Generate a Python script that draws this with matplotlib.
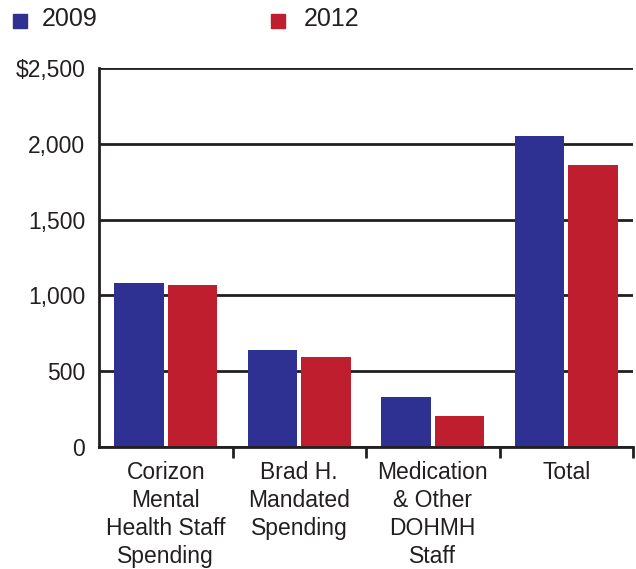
import matplotlib
matplotlib.use("Agg")
import matplotlib.pyplot as plt
from matplotlib.patches import Rectangle
import numpy as np

categories = ["Corizon\nMental\nHealth Staff\nSpending", "Brad H.\nMandated\nSpending",
              "Medication\n& Other\nDOHMH\nStaff", "Total"]
series_names = ["2009", "2012"]
values_2009 = [1080, 642, 332, 2050]
values_2012 = [1070, 596, 207, 1862]
yticks = [0, 500, 1000, 1500, 2000, 2500]
ytick_labels = ["0", "500", "1,000", "1,500", "2,000", "$2,500"]
colors = ["#2E3192", "#BE1E2D"]
text_color = "#231F20"

plt.rcParams['font.family'] = ['Liberation Sans', 'DejaVu Sans']

W, H = 636, 569
fig = plt.figure(figsize=(W / 100, H / 100), dpi=100)
ax = fig.add_axes([99 / W, 1 - 447 / H, (633 - 99) / W, (447 - 68) / H])

x = np.arange(len(categories))
bw = 0.37
ax.bar(x - 0.2, values_2009, width=bw, color=colors[0], zorder=3)
ax.bar(x + 0.2, values_2012, width=bw, color=colors[1], zorder=3)

ax.set_xlim(-0.5, len(categories) - 0.5)
ax.set_ylim(0, 2500)

for s in ["top", "right"]:
    ax.spines[s].set_visible(False)
for s in ["left", "bottom"]:
    ax.spines[s].set_linewidth(2)
    ax.spines[s].set_color("#231F20")
    ax.spines[s].set_zorder(4)

ax.set_yticks(yticks)
ax.set_yticklabels(ytick_labels, fontsize=16.5, color=text_color)
ax.tick_params(axis="y", length=0, pad=10)
ax.yaxis.grid(True, color="#231F20", linewidth=2)
ax.set_axisbelow(True)

# Category boundaries as major ticks, labels at centers as minor ticks
ax.set_xticks(np.arange(0.5, len(categories), 1.0))
ax.set_xticklabels([])
ax.tick_params(axis="x", which="major", length=8, width=2, color="#231F20", direction="out")
ax.set_xticks(x, minor=True)
ax.set_xticklabels(categories, minor=True, fontsize=16.5, color=text_color, linespacing=1.28, va="top")
ax.tick_params(axis="x", which="minor", length=0, pad=10)

# Legend drawn at the top
for i, (name, c) in enumerate(zip(series_names, colors)):
    x0 = [13, 271][i]
    fig.add_artist(Rectangle((x0 / W, 1 - 28 / H), 14 / W, 14 / H, transform=fig.transFigure,
                             color=c))
    fig.text(([42, 304][i]) / W, 1 - 19.5 / H, name, fontsize=18, color=text_color,
             va="center", ha="left")

fig.savefig("out.png", dpi=100)
